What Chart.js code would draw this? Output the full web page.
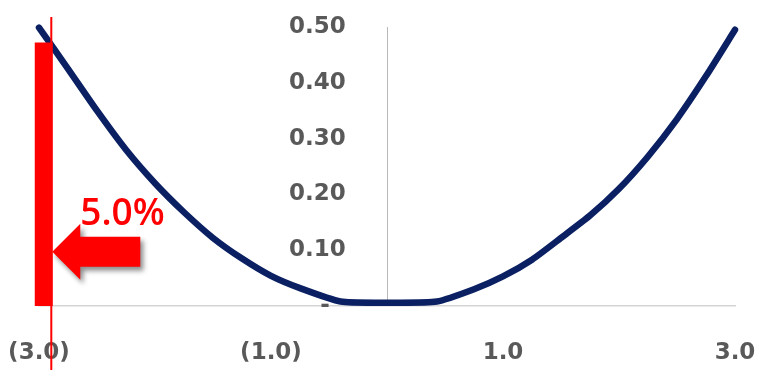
<!DOCTYPE html>
<html>
<head>
<meta charset="utf-8">
<script src="https://cdn.jsdelivr.net/npm/chart.js@4"></script>
<style>
  html, body { margin: 0; padding: 0; background: #ffffff; }
  #wrap { width: 763px; height: 370px; }
</style>
</head>
<body>
<div id="wrap"><canvas id="c" width="763" height="370"></canvas></div>
<script>
// Curve points (x, value)
const curveX = [-3.0, -2.75, -2.5, -2.25, -2.0, -1.75, -1.5, -1.25, -1.0, -0.75, -0.4, 0.0,
                0.43, 0.75, 1.0, 1.25, 1.5, 1.75, 2.0, 2.25, 2.5, 2.75, 3.0];
const curveY = [0.499, 0.425, 0.35, 0.28, 0.22, 0.168, 0.122, 0.085, 0.054, 0.032, 0.008, 0.006,
                0.008, 0.03, 0.053, 0.083, 0.122, 0.162, 0.21, 0.268, 0.335, 0.412, 0.495];

// Axis ticks (the x tick at 0 only carries the vertical axis line)
const xTicks = [-3, -1, 0, 1, 3];
const xLabelled = [-3, -1, 1, 3];
const yTicks = [0, 0.1, 0.2, 0.3, 0.4, 0.5];

// Tail marker: cut-off line, shaded tail bar and its label
const cutoffX = -2.894;
const cutoffRange = [-0.12, 0.518];
const tailBarX = -2.959;
const tailBarRange = [0, 0.472];
const tailLabel = '5.0%';
const arrowTipY = 0.097;

const TICK_FONT = { family: 'DejaVu Sans', size: 23, weight: 'bold' };
const TICK_COLOR = '#595959';
const RED = '#ff0000';

function fmtX(v) {
  if (!xLabelled.includes(v)) return '';
  return v < 0 ? '(' + Math.abs(v).toFixed(1) + ')' : v.toFixed(1);
}
function fmtY(v) {
  // accounting style: zero shows as a dash
  return v === 0 ? '-\u2007' : v.toFixed(2);
}

// Block arrow pointing at the cut-off line, with the tail percentage above it
const tailArrow = {
  id: 'tailArrow',
  afterDatasetsDraw(chart) {
    const { ctx, scales } = chart;
    const tipX = scales.x.getPixelForValue(cutoffX) + 1;
    const tipY = scales.y.getPixelForValue(arrowTipY);
    const headLen = 28, headHalf = 28, shaftHalf = 15, totalLen = 88;
    ctx.save();
    ctx.shadowColor = 'rgba(0,0,0,0.45)';
    ctx.shadowBlur = 5;
    ctx.shadowOffsetX = 3;
    ctx.shadowOffsetY = 4;
    ctx.fillStyle = RED;
    ctx.beginPath();
    ctx.moveTo(tipX, tipY);
    ctx.lineTo(tipX + headLen, tipY - headHalf);
    ctx.lineTo(tipX + headLen, tipY - shaftHalf);
    ctx.lineTo(tipX + totalLen, tipY - shaftHalf);
    ctx.lineTo(tipX + totalLen, tipY + shaftHalf);
    ctx.lineTo(tipX + headLen, tipY + shaftHalf);
    ctx.lineTo(tipX + headLen, tipY + headHalf);
    ctx.closePath();
    ctx.fill();
    ctx.restore();

    ctx.save();
    ctx.fillStyle = RED;
    ctx.font = '600 37px "Open Sans"';
    ctx.textAlign = 'left';
    ctx.textBaseline = 'alphabetic';
    ctx.fillText(tailLabel, tipX + headLen, tipY - 27);
    ctx.restore();
  }
};

new Chart(document.getElementById('c'), {
  type: 'line',
  data: {
    datasets: [
      {
        // thin cut-off line
        data: cutoffRange.map(v => ({ x: cutoffX, y: v })),
        borderColor: RED,
        borderWidth: 2,
        pointRadius: 0,
        clip: false
      },
      {
        // tail bar
        data: tailBarRange.map(v => ({ x: tailBarX, y: v })),
        borderColor: RED,
        borderWidth: 18,
        borderCapStyle: 'butt',
        pointRadius: 0,
        clip: false
      },
      {
        data: curveX.map((x, i) => ({ x, y: curveY[i] })),
        borderColor: '#0a2063',
        borderWidth: 6.5,
        borderCapStyle: 'round',
        borderJoinStyle: 'round',
        tension: 0.2,
        pointRadius: 0,
        clip: false
      }
    ]
  },
  options: {
    responsive: false,
    animation: false,
    events: [],
    layout: { padding: { top: 27, left: 39, right: 28, bottom: 4 } },
    plugins: { legend: { display: false }, tooltip: { enabled: false } },
    scales: {
      x: {
        type: 'linear',
        min: -3,
        max: 3,
        afterBuildTicks: s => { s.ticks = xTicks.map(v => ({ value: v })); },
        afterFit: s => { s.height = 60; s.paddingLeft = 0; s.paddingRight = 0; },
        grid: {
          display: true,
          drawTicks: false,
          lineWidth: 1,
          color: c => (c.tick && c.tick.value === 0 ? '#b8b8b8' : 'rgba(0,0,0,0)')
        },
        border: { display: true, color: '#d4d4d4', width: 1.5 },
        ticks: {
          callback: fmtX,
          font: TICK_FONT,
          color: TICK_COLOR,
          padding: 33,
          maxRotation: 0,
          autoSkip: false
        }
      },
      y: {
        type: 'linear',
        min: 0,
        max: 0.5,
        position: 'left',
        afterBuildTicks: s => { s.ticks = yTicks.map(v => ({ value: v })); },
        afterFit: s => { s.width = 0; s.paddingTop = 0; s.paddingBottom = 0; },
        grid: { display: false },
        border: { display: false },
        ticks: {
          callback: fmtY,
          font: TICK_FONT,
          color: TICK_COLOR,
          mirror: true,
          crossAlign: 'far',
          padding: 250
        }
      }
    }
  },
  plugins: [tailArrow]
});
</script>
</body>
</html>
